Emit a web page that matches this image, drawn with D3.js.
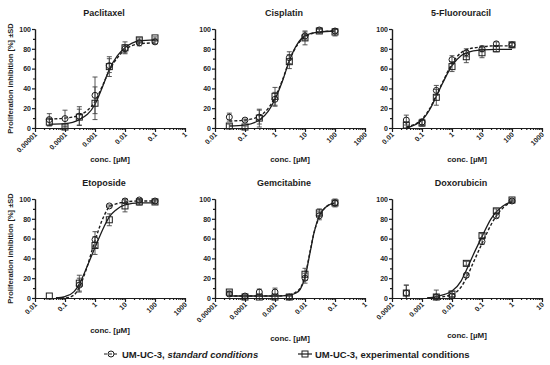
<!DOCTYPE html>
<html>
<head>
<meta charset="utf-8">
<script src="https://cdn.jsdelivr.net/npm/d3@7"></script>
<style>
  body { margin: 0; background: #fff; }
  svg { display: block; font-family: "Liberation Sans", Arial, sans-serif; font-weight: bold; }
</style>
</head>
<body>
<div id="chart"></div>
<script>
// Values: proliferation inhibition [%], mean and SD,
// plus points along each fitted curve.

// Paclitaxel
const paclitaxelConc   = [0.00003, 0.0001, 0.0003, 0.001, 0.003, 0.01, 0.03, 0.1];
const paclitaxelStd    = [8.5, 9.5, 12, 33, 63, 80, 86, 87];
const paclitaxelStdSd  = [6, 8.5, 9.5, 18.5, 7, 4, 3, 2];
const paclitaxelExp    = [6, 1, 11, 25, 62, 81, 89, 91];
const paclitaxelExpSd  = [4, 1, 8, 16.5, 10, 6, 2, 1];
const paclitaxelFitX   = [0.00003, 0.0001, 0.0003, 0.001, 0.0018, 0.003, 0.0056, 0.01, 0.03, 0.1];
const paclitaxelFitStd = [9, 10, 13, 27, 43, 58, 71, 79, 85, 86];
const paclitaxelFitExp = [4, 4.5, 8.5, 24, 42, 59, 73, 81, 88, 89];
const paclitaxelTicks  = ['0.00001', '0.0001', '0.001', '0.01', '0.1', '1'];

// Cisplatin
const cisplatinConc   = [0.03, 0.1, 0.3, 1, 3, 10, 30, 100];
const cisplatinStd    = [11, 8, 11, 29, 71, 93, 99, 98];
const cisplatinStdSd  = [4, 1, 7, 7, 6, 4, 2, 2];
const cisplatinExp    = [2, 1, 10, 32, 67, 91, 98, 97];
const cisplatinExpSd  = [2, 1, 9, 9, 7, 7, 2, 4];
const cisplatinFitX   = [0.03, 0.1, 0.3, 0.6, 1, 1.8, 3, 5.6, 10, 30, 100];
const cisplatinFitStd = [7, 8, 12, 20, 31, 49, 68, 84, 92, 97, 98];
const cisplatinFitExp = [2, 3, 8, 17, 29, 48, 68, 85, 93, 97, 98];
const cisplatinTicks  = ['0.01', '0.1', '1', '10', '100', '1000'];

// 5-Fluorouracil
const fluorouracilConc   = [0.03, 0.1, 0.3, 1, 3, 10, 30, 100];
const fluorouracilStd    = [8, 6, 38, 69, 76, 80, 85, 84];
const fluorouracilStdSd  = [5, 3, 5, 4, 4, 3, 2, 2];
const fluorouracilExp    = [3, 5, 31, 62, 72, 76, 80, 84];
const fluorouracilExpSd  = [3, 3, 8, 5, 6, 5, 3, 2];
const fluorouracilFitX   = [0.03, 0.1, 0.2, 0.3, 0.5, 1, 2, 3, 10, 30, 100];
const fluorouracilFitStd = [1, 9, 22, 33, 47, 65, 76, 79, 82, 83, 83];
const fluorouracilFitExp = [0, 8, 21, 32, 46, 63, 73, 76, 79, 79.5, 79.5];
const fluorouracilTicks  = ['0.01', '0.1', '1', '10', '100', '1000'];

// Etoposide
const etoposideConc   = [0.03, 0.1, 0.3, 1, 3, 10, 30, 100];
const etoposideStd    = [null, null, 13, 59, 93, 98, 99, 98];
const etoposideStdSd  = [0, 0, 7, 8, 1, 2, 1, 1];
const etoposideExp    = [2, null, 15, 53, 79, 93, 97, 97];
const etoposideExpSd  = [0, 0, 8, 9, 6, 6, 3, 2];
const etoposideFitX   = [0.05, 0.1, 0.2, 0.3, 0.5, 1, 2, 3, 5, 10, 30, 100];
const etoposideFitStd = [0, 0, 3, 11, 28, 58, 83, 92, 95, 97, 98, 98];
const etoposideFitExp = [0, 1.5, 6.5, 14, 29, 51, 72, 82, 89, 94, 96, 96];
const etoposideTicks  = ['0.01', '0.1', '1', '10', '100', '1000'];

// Gemcitabine
const gemcitabineConc   = [0.00003, 0.0001, 0.0003, 0.001, 0.003, 0.01, 0.03, 0.1];
const gemcitabineStd    = [4, 2, 6, 6, 1, 20, 83, 96];
const gemcitabineStdSd  = [2, 1, 3, 4, 1, 5, 4, 2];
const gemcitabineExp    = [6, 1, 1, 1, 1, 24, 86, 96];
const gemcitabineExpSd  = [1, 1, 1, 1, 1, 6, 4, 4];
const gemcitabineFitX   = [0.00003, 0.0001, 0.001, 0.003, 0.005, 0.007, 0.01, 0.015, 0.02, 0.03, 0.05, 0.1];
const gemcitabineFitStd = [2, 2, 2, 3, 6, 10, 22, 48, 66, 82, 92, 96];
const gemcitabineFitExp = [2, 2, 2, 3, 5, 9, 21, 47, 66, 83, 92, 96];
const gemcitabineTicks  = ['0.00001', '0.0001', '0.001', '0.01', '0.1', '1'];

// Doxorubicin
const doxorubicinConc   = [0.0003, 0.003, 0.01, 0.03, 0.1, 0.3, 1];
const doxorubicinStd    = [5, 1, 2, 23, 57, 83, 98];
const doxorubicinStdSd  = [8, 7, 2, 2, 3, 2, 1];
const doxorubicinExp    = [5, 1, 4, 35, 63, 88, 99];
const doxorubicinExpSd  = [8, 1, 3, 2, 2, 2, 1];
const doxorubicinFitX   = [0.0015, 0.003, 0.01, 0.02, 0.03, 0.05, 0.1, 0.2, 0.3, 0.5, 1];
const doxorubicinFitStd = [0, 0.5, 3.5, 11, 20, 35, 55, 74, 83, 91, 97];
const doxorubicinFitExp = [0, 1.5, 7, 17, 28, 43, 62, 80, 87, 93, 97.5];
const doxorubicinTicks  = ['0.0001', '0.001', '0.01', '0.1', '1', '10'];

const yTicks = [0, 20, 40, 60, 80, 100];
const yMinorTicks = [10, 30, 50, 70, 90];

// Layout
const width = 550, height = 365;
const plotW = 150, plotH = 99;
const colLeft = [35, 215, 392];
const rowTop = [29, 199];
const ink = '#1c1c1c';

const panels = [
  { title: 'Paclitaxel', conc: paclitaxelConc, std: paclitaxelStd, stdSd: paclitaxelStdSd, exp: paclitaxelExp, expSd: paclitaxelExpSd,
    fitX: paclitaxelFitX, fitStd: paclitaxelFitStd, fitExp: paclitaxelFitExp, ticks: paclitaxelTicks, col: 0, row: 0, labelY: 162 },
  { title: 'Cisplatin', conc: cisplatinConc, std: cisplatinStd, stdSd: cisplatinStdSd, exp: cisplatinExp, expSd: cisplatinExpSd,
    fitX: cisplatinFitX, fitStd: cisplatinFitStd, fitExp: cisplatinFitExp, ticks: cisplatinTicks, col: 1, row: 0, labelY: 162 },
  { title: '5-Fluorouracil', conc: fluorouracilConc, std: fluorouracilStd, stdSd: fluorouracilStdSd, exp: fluorouracilExp, expSd: fluorouracilExpSd,
    fitX: fluorouracilFitX, fitStd: fluorouracilFitStd, fitExp: fluorouracilFitExp, ticks: fluorouracilTicks, col: 2, row: 0, labelY: 162 },
  { title: 'Etoposide', conc: etoposideConc, std: etoposideStd, stdSd: etoposideStdSd, exp: etoposideExp, expSd: etoposideExpSd,
    fitX: etoposideFitX, fitStd: etoposideFitStd, fitExp: etoposideFitExp, ticks: etoposideTicks, col: 0, row: 1, labelY: 333 },
  { title: 'Gemcitabine', conc: gemcitabineConc, std: gemcitabineStd, stdSd: gemcitabineStdSd, exp: gemcitabineExp, expSd: gemcitabineExpSd,
    fitX: gemcitabineFitX, fitStd: gemcitabineFitStd, fitExp: gemcitabineFitExp, ticks: gemcitabineTicks, col: 1, row: 1, labelY: 341 },
  { title: 'Doxorubicin', conc: doxorubicinConc, std: doxorubicinStd, stdSd: doxorubicinStdSd, exp: doxorubicinExp, expSd: doxorubicinExpSd,
    fitX: doxorubicinFitX, fitStd: doxorubicinFitStd, fitExp: doxorubicinFitExp, ticks: doxorubicinTicks, col: 2, row: 1, labelY: 338 }
];

const svg = d3.select('#chart')
  .append('svg')
  .attr('width', width)
  .attr('height', height);

function styleAxis(sel, size) {
  sel.attr('font-family', null).attr('font-size', null);
  sel.selectAll('path, line').attr('stroke', ink).attr('stroke-width', 1.2);
  sel.selectAll('text').style('font-size', size + 'px').attr('fill', ink);
}

panels.forEach(p => {
  const left = colLeft[p.col], top = rowTop[p.row];
  const g = svg.append('g').attr('transform', `translate(${left},${top})`);

  const tickVals = p.ticks.map(Number);
  const x = d3.scaleLog()
    .domain([tickVals[0], tickVals[tickVals.length - 1]])
    .range([0, plotW]);
  const y = d3.scaleLinear().domain([0, 100]).range([plotH, 0]);

  // minor log ticks (2..9 in each decade)
  const minorVals = x.ticks().filter(v => !tickVals.some(t => Math.abs(v / t - 1) < 1e-6));

  // x axis
  const xMinor = g.append('g')
    .attr('transform', `translate(0,${plotH})`)
    .call(d3.axisBottom(x).tickValues(minorVals).tickSize(2).tickSizeOuter(0).tickFormat(''));
  styleAxis(xMinor, 7);
  const xMajor = g.append('g')
    .attr('transform', `translate(0,${plotH})`)
    .call(d3.axisBottom(x).tickValues(tickVals).tickSize(4).tickSizeOuter(0).tickFormat((d, i) => p.ticks[i]));
  styleAxis(xMajor, 7);
  xMajor.selectAll('.tick text')
    .attr('x', 2).attr('y', 7).attr('dy', null)
    .attr('transform', 'rotate(-45 2 7)')
    .style('text-anchor', 'end');

  // y axis
  const yMinor = g.append('g')
    .call(d3.axisLeft(y).tickValues(yMinorTicks).tickSize(2).tickSizeOuter(0).tickFormat(''));
  styleAxis(yMinor, 7);
  const yMajor = g.append('g')
    .call(d3.axisLeft(y).tickValues(yTicks).tickSize(3).tickSizeOuter(0));
  styleAxis(yMajor, 7);
  yMajor.selectAll('.tick text').attr('x', -4);

  // fitted curves
  const fitLine = vals => d3.line()
    .x((d, i) => x(p.fitX[i]))
    .y(d => y(d))
    .curve(d3.curveMonotoneX)(vals);

  g.append('path')
    .attr('d', fitLine(p.fitStd))
    .attr('fill', 'none')
    .attr('stroke', ink)
    .attr('stroke-width', 1.4)
    .attr('stroke-dasharray', '3,2');

  g.append('path')
    .attr('d', fitLine(p.fitExp))
    .attr('fill', 'none')
    .attr('stroke', ink)
    .attr('stroke-width', 1.3);

  // error bars
  const bars = [];
  p.conc.forEach((c, i) => {
    if (p.std[i] != null && p.stdSd[i] > 0.5) bars.push({ c: c, m: p.std[i], sd: p.stdSd[i] });
    if (p.exp[i] != null && p.expSd[i] > 0.5) bars.push({ c: c, m: p.exp[i], sd: p.expSd[i] });
  });
  const eb = g.append('g').attr('stroke', '#444').attr('stroke-width', 0.9);
  bars.forEach(b => {
    const cx = x(b.c);
    const y1 = y(Math.min(100, b.m + b.sd));
    const y0 = y(Math.max(0, b.m - b.sd));
    eb.append('line').attr('x1', cx).attr('x2', cx).attr('y1', y1).attr('y2', y0);
    eb.append('line').attr('x1', cx - 2.5).attr('x2', cx + 2.5).attr('y1', y1).attr('y2', y1);
    if (b.m - b.sd > 0) eb.append('line').attr('x1', cx - 2.5).attr('x2', cx + 2.5).attr('y1', y0).attr('y2', y0);
  });

  // markers: circles = standard, squares = experimental
  g.selectAll('.std-pt')
    .data(p.conc.map((c, i) => ({ c: c, v: p.std[i] })).filter(d => d.v != null))
    .enter().append('circle')
    .attr('cx', d => x(d.c))
    .attr('cy', d => y(d.v))
    .attr('r', 3)
    .attr('fill', 'none')
    .attr('stroke', ink)
    .attr('stroke-width', 1);

  g.selectAll('.exp-pt')
    .data(p.conc.map((c, i) => ({ c: c, v: p.exp[i] })).filter(d => d.v != null))
    .enter().append('rect')
    .attr('x', d => x(d.c) - 3)
    .attr('y', d => y(d.v) - 3)
    .attr('width', 6)
    .attr('height', 6)
    .attr('fill', 'none')
    .attr('stroke', ink)
    .attr('stroke-width', 1);

  // title
  svg.append('text')
    .attr('x', left + 69)
    .attr('y', top - 13)
    .style('text-anchor', 'middle')
    .style('font-size', '9px')
    .attr('fill', ink)
    .text(p.title);

  // x label
  svg.append('text')
    .attr('x', left + plotW / 2)
    .attr('y', p.labelY)
    .style('text-anchor', 'middle')
    .style('font-size', '8px')
    .attr('fill', ink)
    .text('conc. [µM]');

  // y label only on the left column
  if (p.col === 0) {
    svg.append('text')
      .attr('transform', `translate(13, ${top + plotH / 2}) rotate(-90)`)
      .style('text-anchor', 'middle')
      .style('font-size', '7.5px')
      .attr('fill', ink)
      .text('Proliferation inhibition [%] ±SD');
  }
});

// Legend
const legendY = 354;
const legend = svg.append('g');

legend.append('line')
  .attr('x1', 104).attr('x2', 118).attr('y1', legendY).attr('y2', legendY)
  .attr('stroke', ink).attr('stroke-width', 1.2).attr('stroke-dasharray', '3,2');
legend.append('circle')
  .attr('cx', 111).attr('cy', legendY).attr('r', 3)
  .attr('fill', 'none').attr('stroke', ink).attr('stroke-width', 1);
const t1 = legend.append('text')
  .attr('x', 122).attr('y', legendY + 3.5)
  .style('font-size', '9.5px')
  .attr('fill', ink);
t1.append('tspan').text('UM-UC-3, ');
t1.append('tspan').style('font-style', 'italic').text('standard conditions');

legend.append('line')
  .attr('x1', 298).attr('x2', 312).attr('y1', legendY).attr('y2', legendY)
  .attr('stroke', ink).attr('stroke-width', 1.2);
legend.append('rect')
  .attr('x', 302).attr('y', legendY - 3).attr('width', 6).attr('height', 6)
  .attr('fill', 'none').attr('stroke', ink).attr('stroke-width', 1);
legend.append('text')
  .attr('x', 315).attr('y', legendY + 3.5)
  .style('font-size', '9.5px')
  .attr('fill', ink)
  .text('UM-UC-3, experimental conditions');
</script>
</body>
</html>
